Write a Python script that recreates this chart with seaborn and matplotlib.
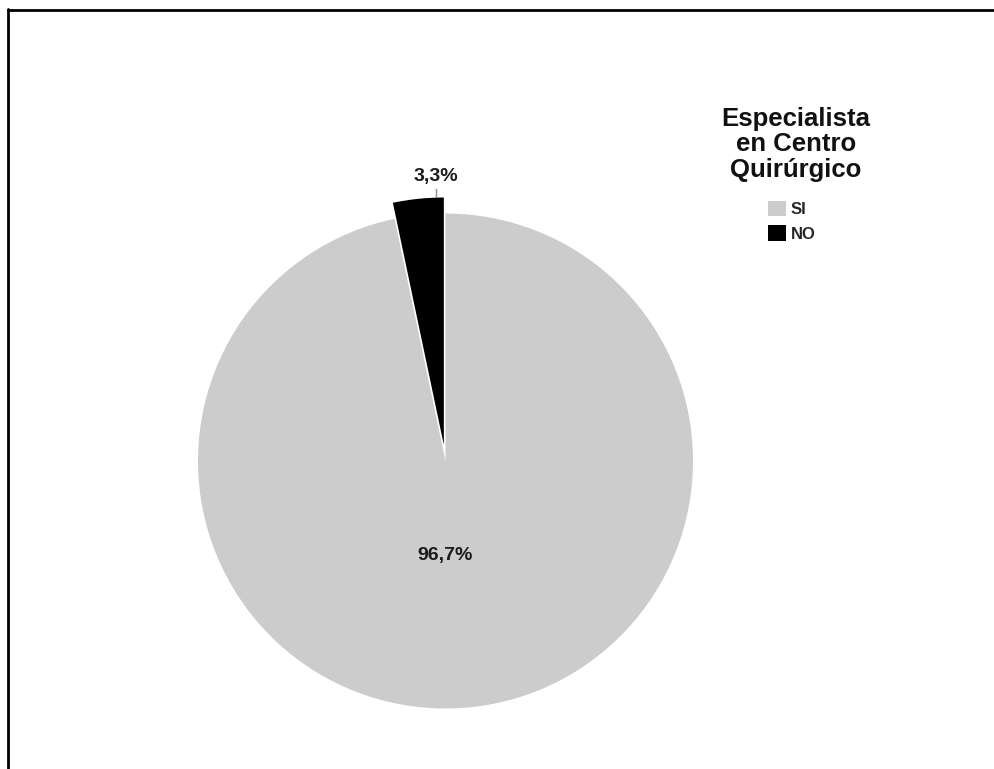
import matplotlib
matplotlib.use("Agg")
import matplotlib.pyplot as plt
import seaborn as sns
import numpy as np
from matplotlib.patches import Patch
from matplotlib.lines import Line2D

# Survey answer: specialist in surgical centre
categories = ["NO", "SI"]
percentages = [3.3, 96.7]
slice_colors = ["#000000", "#cccccc"]
legend_order = ["SI", "NO"]
legend_title = "Especialista\nen Centro\nQuirúrgico"

sns.set_theme(style="white")
plt.rcParams["font.family"] = ["Liberation Sans", "DejaVu Sans"]

W, H = 994, 769
fig = plt.figure(figsize=(W / 100, H / 100), dpi=100)
fig.patch.set_facecolor("white")
ax = fig.add_axes([0, 0, 1, 1])

cx, cy, r = 445.5, H - 461, 247.5
# explode is given in data units here (pixels), since the axes span the figure
explode = [0.065 * r if c == "NO" else 0.0 for c in categories]
wedges, _ = ax.pie(
    percentages, colors=slice_colors, explode=explode, startangle=90,
    counterclock=True, center=(cx, cy), radius=r, frame=True,
    wedgeprops=dict(linewidth=0),
)
ax.set_xlim(0, W)
ax.set_ylim(0, H)
ax.set_aspect("equal")
ax.axis("off")

def fmt(v):
    return f"{v:.1f}%".replace(".", ",")

for w, cat, val in zip(wedges, categories, percentages):
    wx, wy = w.center
    if cat == "NO":
        # outside label above the slice, joined by a short leader line
        theta = np.deg2rad(w.theta1 + 0.15 * (w.theta2 - w.theta1))
        ex, ey = wx + r * np.cos(theta), wy + r * np.sin(theta)
        ax.plot([ex, ex], [ey + 2, ey + 9], color="#888888", lw=1)
        tx, ty = ex, ey + 21
    else:
        tx, ty = wx, wy - 0.38 * r
    ax.text(tx, ty, fmt(val), ha="center", va="center", fontsize=14,
            fontweight="bold", color="#1a1a1a")

# Legend title drawn as its own text block, entries below it
ax.text(796, H - 107, legend_title, ha="center", va="top", fontsize=18.5,
        fontweight="bold", color="#111111", linespacing=1.07,
        multialignment="center")

handles = [Patch(facecolor=slice_colors[categories.index(c)], edgecolor="none")
           for c in legend_order]
leg = ax.legend(
    handles, legend_order, loc="upper center",
    bbox_to_anchor=(792 / W, 1 - 189 / H), frameon=False,
    prop=dict(weight="bold", size=12),
    handlelength=1.05, handleheight=1.05, handletextpad=0.3, labelspacing=0.5,
    borderpad=0.2,
)

# Outer frame (left and top edges)
fig.add_artist(Line2D([7.5 / W, 7.5 / W], [0, 1 - 9 / H], transform=fig.transFigure,
                      color="black", lw=2))
fig.add_artist(Line2D([7.5 / W, 1], [1 - 9.5 / H, 1 - 9.5 / H], transform=fig.transFigure,
                      color="black", lw=2))

fig.savefig("out.png", dpi=100)
